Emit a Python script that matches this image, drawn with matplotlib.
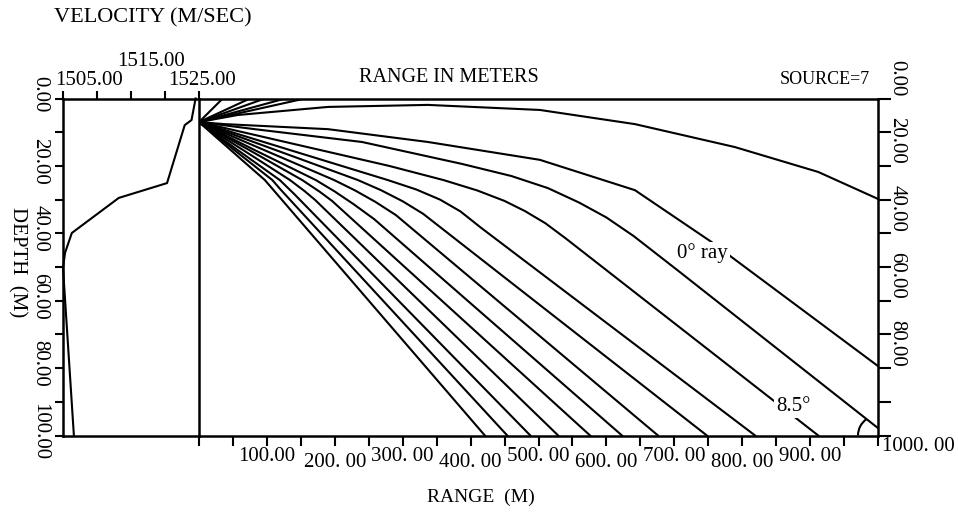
#Ray trace plot: sound speed profile on the left, ray paths from a 7 m source on the right
import matplotlib.pyplot as plt
import numpy as np
from matplotlib.patches import Arc
from matplotlib.transforms import ScaledTranslation

plt.rcParams['font.family'] = ['Liberation Serif', 'DejaVu Serif']

# sound speed profile (depth m, velocity m/s)
profile_depth = [0, 6.4, 7.9, 25.1, 29.5, 39.9, 45.8, 50.3, 100]
profile_velocity = [1524.5, 1523.9, 1522.9, 1520.3, 1513.2, 1506.3, 1505.3, 1505.0, 1506.6]

# ray paths as (range m, depth m)
ray_top = [(0, 7), (57, 4.9), (190, 2.5), (337, 1.9), (502, 3.4), (642, 7.6),
           (789, 14.4), (912, 21.8), (1000, 29.8)]
ray_0deg = [(0, 7), (38, 7.6), (190, 9.1), (337, 12.9), (502, 18.2), (642, 27.2),
            (755, 42.6), (786, 47.3), (1000, 79.4)]
ray_corner = [(0, 7), (82, 9.1), (240, 12.9), (387, 19.4), (460, 23.0), (514, 26.6),
              (560, 30.9), (600, 35.3), (640, 40.8), (705, 51.0), (1000, 97.8)]
ray_8p5 = [(0, 7), (280, 20.0), (360, 24.2), (410, 27.3), (450, 30.4), (480, 33.4),
           (510, 37.0), (540, 41.5), (912, 100)]
steep_rays = [
    [(0, 7), (134, 15.3), (278, 24.2), (320, 27.0), (355, 30.0), (385, 33.5), (415, 38.3), (819, 100)],
    [(0, 7), (113, 15.3), (234, 24.2), (268, 27.2), (300, 30.5), (330, 34.2), (748, 100)],
    [(0, 7), (96, 15.3), (199, 24.2), (230, 27.3), (260, 30.7), (290, 34.6), (676, 100)],
    [(0, 7), (82, 15.3), (172, 24.2), (200, 27.6), (228, 31.4), (258, 35.8), (623, 100)],
    [(0, 7), (74, 15.3), (152, 24.2), (178, 27.7), (196, 30.4), (576, 100)],
    [(0, 7), (65, 15.3), (134, 24.2), (155, 27.4), (171, 30.1), (529, 100)],
    [(0, 7), (57, 15.3), (119, 24.2), (140, 28.3), (488, 100)],
    [(0, 7), (52, 15.3), (108, 24.2), (121, 27.2), (454, 100)],
    [(0, 7), (63, 18.2), (97, 24.2), (421, 100)],
]
# ranges where the upward rays reach the surface
surface_hits = [35, 75, 97, 127, 156]

velocity_ticks = [1505, 1510, 1515, 1520, 1525]
depth_labels = ["0.00", "20.00", "40.00", "60.00", "80.00", "100.00"]
range_labels = ["100.00", "200. 00", "300. 00", "400. 00", "500. 00",
                "600. 00", "700. 00", "800. 00", "900. 00", "1000. 00"]

W, H = 958, 513
fig = plt.figure(figsize=(W / 100, H / 100), dpi=100)
bottom = 77.5 / H
height = 337 / H
ax_v = fig.add_axes([63 / W, bottom, 136 / W, height])
ax_r = fig.add_axes([199 / W, bottom, 679 / W, height])

lw = 1.5
for ax in (ax_v, ax_r):
    ax.set_ylim(100, 0)
    for s in ax.spines.values():
        s.set_linewidth(1.8)
    ax.set_facecolor('none')

# velocity panel
ax_v.set_xlim(1505, 1525)
ax_v.plot(profile_velocity, profile_depth, color='black', lw=lw, clip_on=False)
ax_v.spines['right'].set_visible(False)
ax_v.xaxis.set_ticks_position('top')
ax_v.set_xticks(velocity_ticks)
ax_v.set_xticklabels([])
ax_v.set_yticks(np.arange(0, 101, 10))
ax_v.set_yticklabels([])
ax_v.tick_params(axis='both', direction='out', length=6, width=1.5)

# ray panel
ax_r.set_xlim(0, 1000)
for hit in surface_hits:
    ax_r.plot([0, hit], [7, 0], color='black', lw=lw)
for ray in steep_rays + [ray_8p5, ray_corner, ray_0deg, ray_top]:
    r, d = zip(*ray)
    ax_r.plot(r, d, color='black', lw=lw)

ax_r.set_xticks(np.arange(0, 1001, 50))
ax_r.set_xticklabels([])
ax_r.yaxis.set_ticks_position('right')
ax_r.set_yticks(np.arange(0, 101, 10))
ax_r.set_yticklabels([])
ax_r.tick_params(axis='x', direction='out', length=7, width=1.5)
ax_r.tick_params(axis='y', direction='out', length=9, width=1.5)

# angle mark at the bottom corner, from the bottom line up to the last ray
R = 20.0  # radius in pixels
c = ax_r.transData.transform((1000, 100))
p0 = ax_r.transData.transform(ray_corner[-2])
p1 = ax_r.transData.transform(ray_corner[-1])
u = (p0 - p1) / np.hypot(*(p0 - p1))
b = np.dot(u, p1 - c)
t = -b + np.sqrt(b * b - (np.dot(p1 - c, p1 - c) - R * R))
hit = p1 + t * u - c
ang = np.degrees(np.arctan2(hit[1], hit[0]))
arc_tr = fig.dpi_scale_trans + ScaledTranslation(1000, 100, ax_r.transData)
ax_r.add_patch(Arc((0, 0), 2 * R / 100, 2 * R / 100, theta1=ang, theta2=180,
                   transform=arc_tr, color='black', lw=lw))

# ray labels
ax_r.text(742, 46, "0° ray", fontsize=15, ha='center', va='center',
          bbox=dict(facecolor='white', edgecolor='none', pad=1))
ax_r.text(875, 91.5, "8.5°", fontsize=15, ha='center', va='center',
          bbox=dict(facecolor='white', edgecolor='none', pad=1))

# tick labels
fs = 15
vt = ax_v.get_xaxis_transform()
ax_v.text(1503.8, 1.052, "1505.00", fontsize=fs, ha='left', va='center', transform=vt)
ax_v.text(1517.9, 1.111, "1515.00", fontsize=fs, ha='center', va='center', transform=vt)
ax_v.text(1525.4, 1.052, "1525.00", fontsize=fs, ha='center', va='center', transform=vt)

lt = ax_v.get_yaxis_transform()
rt = ax_r.get_yaxis_transform()
for i, lab in enumerate(depth_labels):
    d = i * 20
    ax_v.text(-0.169, d - 1.3, lab, fontsize=fs, rotation=270, ha='center', va='center',
              transform=lt)
    if d < 100:
        ax_r.text(1.028, d - 0.5, lab, fontsize=fs, rotation=270, ha='center', va='bottom',
                  transform=rt)

bt = ax_r.get_xaxis_transform()
for i, lab in enumerate(range_labels):
    x = (i + 1) * 100
    if x == 1000:
        ax_r.text(x + 6, -0.034, lab, fontsize=fs, ha='left', va='center', transform=bt)
    else:
        y = -0.062 if i % 2 == 0 else -0.080
        ax_r.text(x, y, lab, fontsize=fs, ha='center', va='center', transform=bt)

# titles
fig.text(153 / W, 1 - 18 / H, "VELOCITY (M/SEC)", fontsize=16, ha='center', va='center')
fig.text(449 / W, 1 - 78 / H, "RANGE IN METERS", fontsize=14.5, ha='center', va='center')
fig.text(825 / W, 1 - 80 / H, "SOURCE=7", fontsize=13, ha='center', va='center')
fig.text(481 / W, 1 - 497 / H, "RANGE  (M)", fontsize=14, ha='center', va='center')
fig.text(17 / W, 1 - 262 / H, "DEPTH  (M)", fontsize=15, rotation=270, ha='center', va='center')

fig.savefig("out.png", dpi=100)
